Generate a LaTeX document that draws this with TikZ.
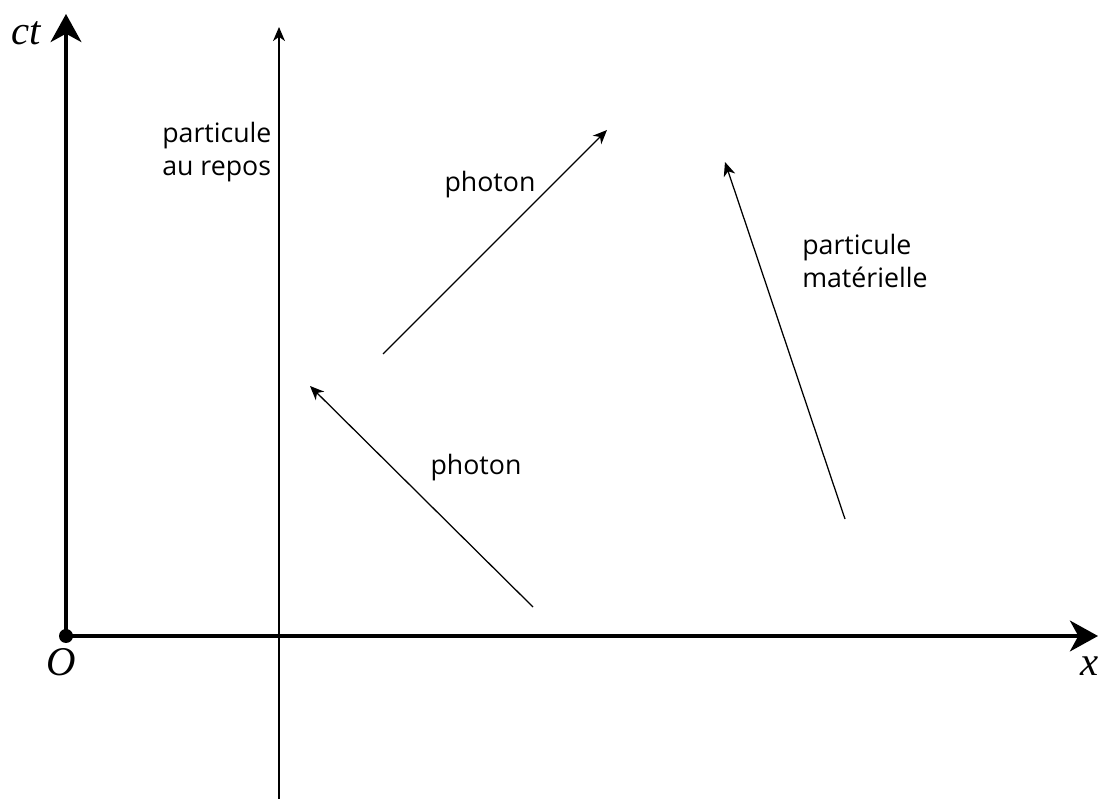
\documentclass[tikz,border=0pt]{standalone}
\usepackage{fontspec}
\setmainfont{Liberation Serif}
\newfontfamily\labelfont{Open Sans}
\usetikzlibrary{arrows.meta}
\tikzset{
  axe/.style={line width=2.2pt, -{Stealth[length=20pt, width=22pt, inset=6pt]}},
  ligne/.style={line width=0.9pt, -{Stealth[length=10pt, width=8.5pt, inset=3pt]}},
  etiq/.style={font=\labelfont\fontsize{19}{24}\selectfont, align=left, inner sep=0pt},
  lettre/.style={font=\fontsize{29}{30}\selectfont\itshape, inner sep=0pt}
}
\begin{document}
\begin{tikzpicture}[x=0.025cm, y=-0.025cm]
            \useasboundingbox (0,0) rectangle (1100,799);
            % axes
            \coordinate (O) at (66,636);
            \coordinate (ctbout) at (66,14);
            \coordinate (xbout) at (1098,636);
            \draw[axe] (O) -- (ctbout);
            \draw[axe] (O) -- (xbout);
            \fill (O) circle (7);
            \node[lettre] (ct) at (26,33) {ct};
            \node[lettre] (nO) at (61,662) {O};
            \node[lettre] (nx) at (1090,666) {x};
            % particule au repos
            \coordinate (r0) at (279,799);
            \coordinate (r1) at (279,27);
            \draw[ligne] (r0) -- (r1);
            \node[etiq, anchor=west] (repos) at (162,152) {particule\\au repos};
            % photons
            \coordinate (p0) at (383,354);
            \coordinate (p1) at (607,130);
            \draw[ligne] (p0) -- (p1);
            \node[etiq] (ph1) at (490,185) {photon};
            \coordinate (q0) at (533,607);
            \coordinate (q1) at (310,386);
            \draw[ligne] (q0) -- (q1);
            \node[etiq] (ph2) at (476,468) {photon};
            % particule materielle
            \coordinate (m0) at (845,519);
            \coordinate (m1) at (725,162);
            \draw[ligne] (m0) -- (m1);
            \node[etiq, anchor=west] (mat) at (802,261) {particule\\matérielle};
        \end{tikzpicture}
\end{document}
